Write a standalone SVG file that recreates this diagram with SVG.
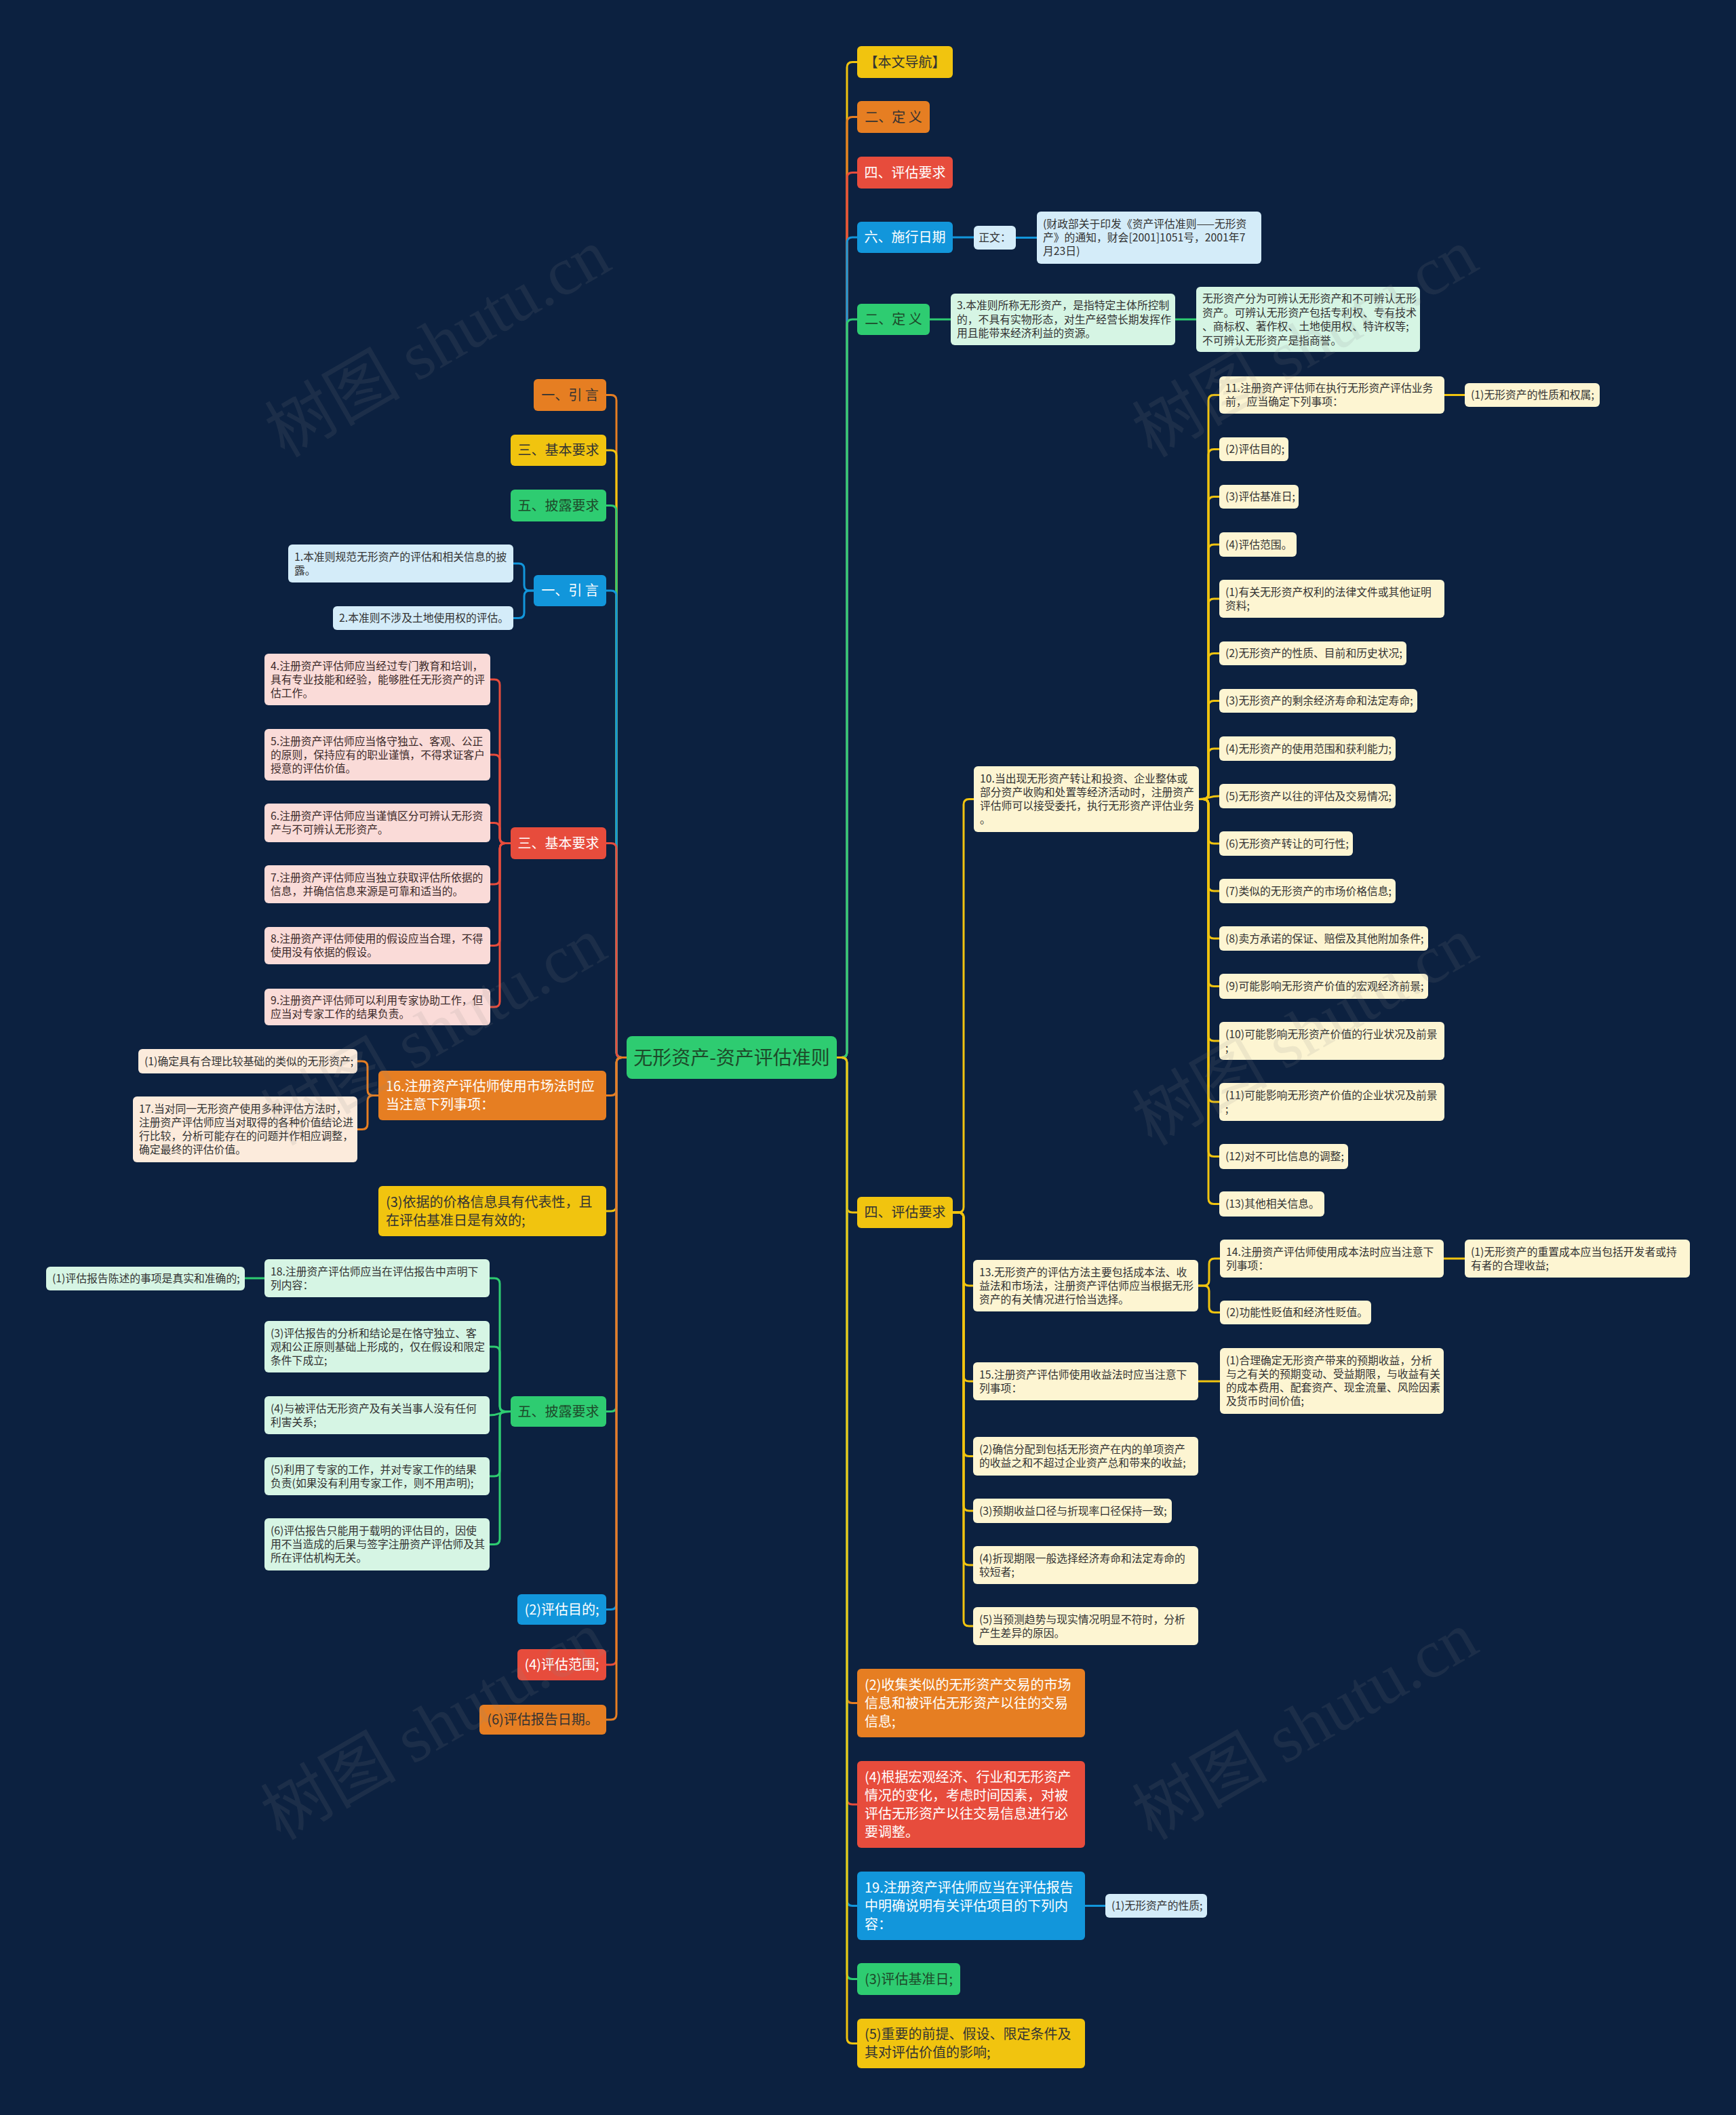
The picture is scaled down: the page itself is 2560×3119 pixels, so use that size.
<svg xmlns="http://www.w3.org/2000/svg" width="2560" height="3119" viewBox="0 0 2560 3119">
<style>
text{font-family:"Noto Sans CJK SC","Noto Sans",sans-serif;}
.s{font-size:15.8px;fill:#333333;}
.m{font-size:20px;}
.c{text-anchor:middle;}
.w{fill:#ffffff;}
.d{fill:#333333;}
.dg{fill:#1d4a2a;}
.pk{fill:#3d2b2b;}
.ln{fill:none;stroke-width:3;stroke-linecap:round;}
.Y{stroke:#f1c40f;} .O{stroke:#e67e22;} .R{stroke:#e74c3c;} .B{stroke:#1296db;} .G{stroke:#2ecc71;}
.fY{fill:#f1c40f;} .fO{fill:#e67e22;} .fR{fill:#e74c3c;} .fB{fill:#1296db;} .fG{fill:#2ecc71;}
.cr{fill:#fdf5d2;} .lb{fill:#d4ecf9;} .lg{fill:#d6f5e4;} .pi{fill:#fadbd8;} .pe{fill:#fcebdc;}
.wm{font-family:"Liberation Serif","Noto Sans CJK SC",serif;font-size:100px;fill:#8a8a8a;opacity:0.13;text-anchor:middle;}
</style>
<rect x="0" y="0" width="2560" height="3119" fill="#0c2140"/>

<g id="connectors">
<!-- root right, top -->
<path class="ln Y" d="M1234 1559.5 H1241 Q1249 1559.5 1249 1551.5 V99.5 Q1249 91.5 1257 91.5 H1264"/>
<path class="ln O" d="M1234 1559.5 H1241 Q1249 1559.5 1249 1551.5 V180.5 Q1249 172.5 1257 172.5 H1264"/>
<path class="ln R" d="M1234 1559.5 H1241 Q1249 1559.5 1249 1551.5 V262.5 Q1249 254.5 1257 254.5 H1264"/>
<path class="ln B" d="M1234 1559.5 H1241 Q1249 1559.5 1249 1551.5 V358 Q1249 350 1257 350 H1264"/>
<path class="ln G" d="M1234 1559.5 H1241 Q1249 1559.5 1249 1551.5 V479 Q1249 471 1257 471 H1264"/>
<!-- root right, bottom -->
<path class="ln Y" d="M1234 1559.5 H1241 Q1249 1559.5 1249 1567.5 V1780 Q1249 1788 1257 1788 H1264"/>
<path class="ln O" d="M1234 1559.5 H1241 Q1249 1559.5 1249 1567.5 V2503.5 Q1249 2511.5 1257 2511.5 H1264"/>
<path class="ln R" d="M1234 1559.5 H1241 Q1249 1559.5 1249 1567.5 V2653 Q1249 2661 1257 2661 H1264"/>
<path class="ln B" d="M1234 1559.5 H1241 Q1249 1559.5 1249 1567.5 V2802.5 Q1249 2810.5 1257 2810.5 H1264"/>
<path class="ln G" d="M1234 1559.5 H1241 Q1249 1559.5 1249 1567.5 V2910.5 Q1249 2918.5 1257 2918.5 H1264"/>
<path class="ln Y" d="M1234 1559.5 H1241 Q1249 1559.5 1249 1567.5 V3005.5 Q1249 3013.5 1257 3013.5 H1264"/>
<!-- root left, top -->
<path class="ln O" d="M924 1559.5 H917 Q909 1559.5 909 1551.5 V590.5 Q909 582.5 901 582.5 H894"/>
<path class="ln Y" d="M924 1559.5 H917 Q909 1559.5 909 1551.5 V672 Q909 664 901 664 H894"/>
<path class="ln G" d="M924 1559.5 H917 Q909 1559.5 909 1551.5 V753.5 Q909 745.5 901 745.5 H894"/>
<path class="ln B" d="M924 1559.5 H917 Q909 1559.5 909 1551.5 V879 Q909 871 901 871 H894"/>
<path class="ln R" d="M924 1559.5 H917 Q909 1559.5 909 1551.5 V1251.5 Q909 1243.5 901 1243.5 H894"/>
<!-- root left, bottom -->
<path class="ln O" d="M924 1559.5 H917 Q909 1559.5 909 1567.5 V1607.5 Q909 1615.5 901 1615.5 H894"/>
<path class="ln Y" d="M924 1559.5 H917 Q909 1559.5 909 1567.5 V1778 Q909 1786 901 1786 H894"/>
<path class="ln G" d="M924 1559.5 H917 Q909 1559.5 909 1567.5 V2073.5 Q909 2081.5 901 2081.5 H894"/>
<path class="ln B" d="M924 1559.5 H917 Q909 1559.5 909 1567.5 V2365.5 Q909 2373.5 901 2373.5 H894"/>
<path class="ln R" d="M924 1559.5 H917 Q909 1559.5 909 1567.5 V2447 Q909 2455 901 2455 H894"/>
<path class="ln O" d="M924 1559.5 H917 Q909 1559.5 909 1567.5 V2528 Q909 2536 901 2536 H894"/>

<!-- right second level -->
<path class="ln B" d="M1405 350 H1436"/>
<path class="ln B" d="M1498 350.5 H1529"/>
<path class="ln G" d="M1371 471 H1402"/>
<path class="ln G" d="M1733 471 H1764"/>
<path class="ln B" d="M1600 2810.5 H1630"/>

<path class="ln Y" d="M1405 1788 H1413 Q1421 1788 1421 1780 V1186.5 Q1421 1178.5 1429 1178.5 H1436"/>
<path class="ln Y" d="M1405 1788 H1413 Q1421 1788 1421 1796 V1888 Q1421 1896 1429 1896 H1435"/>
<path class="ln Y" d="M1405 1788 H1413 Q1421 1788 1421 1796 V2029 Q1421 2037 1429 2037 H1435"/>
<path class="ln Y" d="M1405 1788 H1413 Q1421 1788 1421 1796 V2139.5 Q1421 2147.5 1429 2147.5 H1435"/>
<path class="ln Y" d="M1405 1788 H1413 Q1421 1788 1421 1796 V2220 Q1421 2228 1429 2228 H1435"/>
<path class="ln Y" d="M1405 1788 H1413 Q1421 1788 1421 1796 V2300 Q1421 2308 1429 2308 H1435"/>
<path class="ln Y" d="M1405 1788 H1413 Q1421 1788 1421 1796 V2390 Q1421 2398 1429 2398 H1435"/>

<path class="ln Y" d="M1768 1178.5 H1774 Q1782 1178.5 1782 1170.5 V590.5 Q1782 582.5 1790 582.5 H1798"/>
<path class="ln Y" d="M1768 1178.5 H1774 Q1782 1178.5 1782 1170.5 V670.5 Q1782 662.5 1790 662.5 H1798"/>
<path class="ln Y" d="M1768 1178.5 H1774 Q1782 1178.5 1782 1170.5 V740.5 Q1782 732.5 1790 732.5 H1798"/>
<path class="ln Y" d="M1768 1178.5 H1774 Q1782 1178.5 1782 1170.5 V811 Q1782 803 1790 803 H1798"/>
<path class="ln Y" d="M1768 1178.5 H1774 Q1782 1178.5 1782 1170.5 V891 Q1782 883 1790 883 H1798"/>
<path class="ln Y" d="M1768 1178.5 H1774 Q1782 1178.5 1782 1170.5 V971.5 Q1782 963.5 1790 963.5 H1798"/>
<path class="ln Y" d="M1768 1178.5 H1774 Q1782 1178.5 1782 1170.5 V1041.5 Q1782 1033.5 1790 1033.5 H1798"/>
<path class="ln Y" d="M1768 1178.5 H1774 Q1782 1178.5 1782 1170.5 V1112 Q1782 1104 1790 1104 H1798"/>
<path class="ln Y" d="M1768 1178.5 C1782 1178.5 1782 1174 1798 1174"/>
<path class="ln Y" d="M1768 1178.5 H1774 Q1782 1178.5 1782 1186.5 V1236 Q1782 1244 1790 1244 H1798"/>
<path class="ln Y" d="M1768 1178.5 H1774 Q1782 1178.5 1782 1186.5 V1306 Q1782 1314 1790 1314 H1798"/>
<path class="ln Y" d="M1768 1178.5 H1774 Q1782 1178.5 1782 1186.5 V1376 Q1782 1384 1790 1384 H1798"/>
<path class="ln Y" d="M1768 1178.5 H1774 Q1782 1178.5 1782 1186.5 V1446.5 Q1782 1454.5 1790 1454.5 H1798"/>
<path class="ln Y" d="M1768 1178.5 H1774 Q1782 1178.5 1782 1186.5 V1527 Q1782 1535 1790 1535 H1798"/>
<path class="ln Y" d="M1768 1178.5 H1774 Q1782 1178.5 1782 1186.5 V1617 Q1782 1625 1790 1625 H1798"/>
<path class="ln Y" d="M1768 1178.5 H1774 Q1782 1178.5 1782 1186.5 V1697.5 Q1782 1705.5 1790 1705.5 H1798"/>
<path class="ln Y" d="M1768 1178.5 H1774 Q1782 1178.5 1782 1186.5 V1767.5 Q1782 1775.5 1790 1775.5 H1798"/>
<path class="ln Y" d="M2130 582.5 H2160"/>

<path class="ln Y" d="M1767 1896 H1775 Q1783 1896 1783 1888 V1864 Q1783 1856 1791 1856 H1799"/>
<path class="ln Y" d="M1767 1896 H1775 Q1783 1896 1783 1904 V1927.5 Q1783 1935.5 1791 1935.5 H1799"/>
<path class="ln Y" d="M2129 1856 H2160"/>
<path class="ln Y" d="M1767 2037 H1799"/>

<!-- left second level -->
<path class="ln B" d="M787 871 H781 Q773 871 773 863 V839 Q773 831 765 831 H757"/>
<path class="ln B" d="M787 871 H781 Q773 871 773 879 V903.5 Q773 911.5 765 911.5 H757"/>

<path class="ln R" d="M753 1243.5 H745 Q737 1243.5 737 1235.5 V1010 Q737 1002 729 1002 H723"/>
<path class="ln R" d="M753 1243.5 H745 Q737 1243.5 737 1235.5 V1121 Q737 1113 729 1113 H723"/>
<path class="ln R" d="M753 1243.5 H745 Q737 1243.5 737 1235.5 V1221.5 Q737 1213.5 729 1213.5 H723"/>
<path class="ln R" d="M753 1243.5 H745 Q737 1243.5 737 1251.5 V1296 Q737 1304 729 1304 H723"/>
<path class="ln R" d="M753 1243.5 H745 Q737 1243.5 737 1251.5 V1386.5 Q737 1394.5 729 1394.5 H723"/>
<path class="ln R" d="M753 1243.5 H745 Q737 1243.5 737 1251.5 V1477 Q737 1485 729 1485 H723"/>

<path class="ln O" d="M558 1615.5 H550 Q542 1615.5 542 1607.5 V1573 Q542 1565 534 1565 H527"/>
<path class="ln O" d="M558 1615.5 H550 Q542 1615.5 542 1623.5 V1657.5 Q542 1665.5 534 1665.5 H527"/>

<path class="ln G" d="M753 2081.5 H745 Q737 2081.5 737 2073.5 V1893 Q737 1885 729 1885 H722"/>
<path class="ln G" d="M753 2081.5 H745 Q737 2081.5 737 2073.5 V1994 Q737 1986 729 1986 H722"/>
<path class="ln G" d="M753 2081.5 C737 2081.5 737 2087 722 2087"/>
<path class="ln G" d="M753 2081.5 H745 Q737 2081.5 737 2089.5 V2169 Q737 2177 729 2177 H722"/>
<path class="ln G" d="M753 2081.5 H745 Q737 2081.5 737 2089.5 V2269.5 Q737 2277.5 729 2277.5 H722"/>
<path class="ln G" d="M390 1885 H361"/>
</g>

<!-- root -->
<g id="root">
<rect x="924" y="1528" width="310" height="63" rx="8" class="fG"/>
<text x="1079" y="1569.6" class="c dg" font-size="28">无形资产-资产评估准则</text>
</g>

<!-- right first level -->
<g id="r-nav"><rect x="1264" y="68" width="141" height="47" rx="6" class="fY"/><text x="1334.5" y="98.7" class="m c d">【本文导航】</text></g>
<g id="r-def-o"><rect x="1264" y="149" width="107" height="47" rx="6" class="fO"/><text x="1317.5" y="179.7" class="m c d">二、定 义</text></g>
<g id="r-req-r"><rect x="1264" y="231" width="141" height="47" rx="6" class="fR"/><text x="1334.5" y="261.7" class="m c w">四、评估要求</text></g>
<g id="r-date"><rect x="1264" y="327" width="141" height="46" rx="6" class="fB"/><text x="1334.5" y="357.2" class="m c w">六、施行日期</text></g>
<g id="r-zw"><rect x="1436" y="333" width="62" height="35" rx="6" class="lb"/><text x="1467" y="356.3" class="s c">正文：</text></g>
<g id="r-cz"><rect x="1529" y="312" width="331" height="77" rx="6" class="lb"/><text class="s"><tspan x="1538" y="336.3">(财政部关于印发《资产评估准则——无形资</tspan><tspan x="1538" y="356.3">产》的通知，财会[2001]1051号，2001年7</tspan><tspan x="1538" y="376.3">月23日)</tspan></text></g>
<g id="r-def-g"><rect x="1264" y="448" width="107" height="46" rx="6" class="fG"/><text x="1317.5" y="478.2" class="m c dg">二、定 义</text></g>
<g id="r-d3"><rect x="1402" y="433" width="331" height="76" rx="6" class="lg"/><text class="s"><tspan x="1411" y="456.3">3.本准则所称无形资产，是指特定主体所控制</tspan><tspan x="1411" y="476.8">的，不具有实物形态，对生产经营长期发挥作</tspan><tspan x="1411" y="497.3">用且能带来经济利益的资源。</tspan></text></g>
<g id="r-d3b"><rect x="1764" y="423" width="330" height="96" rx="6" class="lg"/><text class="s"><tspan x="1773" y="446.1">无形资产分为可辨认无形资产和不可辨认无形</tspan><tspan x="1773" y="466.6">资产。可辨认无形资产包括专利权、专有技术</tspan><tspan x="1773" y="487.1">、商标权、著作权、土地使用权、特许权等;</tspan><tspan x="1773" y="507.6">不可辨认无形资产是指商誉。</tspan></text></g>

<g id="r-req-y"><rect x="1264" y="1765" width="141" height="46" rx="6" class="fY"/><text x="1334.5" y="1795.2" class="m c d">四、评估要求</text></g>

<g id="n10"><rect x="1436" y="1130" width="332" height="97" rx="6" class="cr"/><text class="s"><tspan x="1445" y="1154.3">10.当出现无形资产转让和投资、企业整体或</tspan><tspan x="1445" y="1174.3">部分资产收购和处置等经济活动时，注册资产</tspan><tspan x="1445" y="1194.3">评估师可以接受委托，执行无形资产评估业务</tspan><tspan x="1445" y="1214.3">。</tspan></text></g>
<g id="n11"><rect x="1798" y="555" width="332" height="55" rx="6" class="cr"/><text class="s"><tspan x="1807" y="578.3">11.注册资产评估师在执行无形资产评估业务</tspan><tspan x="1807" y="598.3">前，应当确定下列事项：</tspan></text></g>
<g id="n11a"><rect x="2160" y="565" width="199" height="35" rx="6" class="cr"/><text x="2169" y="588.3" class="s">(1)无形资产的性质和权属;</text></g>
<g id="n11-2"><rect x="1798" y="645" width="102" height="35" rx="6" class="cr"/><text x="1807" y="668.3" class="s">(2)评估目的;</text></g>
<g id="n11-3"><rect x="1798" y="715" width="117" height="35" rx="6" class="cr"/><text x="1807" y="738.3" class="s">(3)评估基准日;</text></g>
<g id="n11-4"><rect x="1798" y="785" width="114" height="36" rx="6" class="cr"/><text x="1807" y="808.8" class="s">(4)评估范围。</text></g>
<g id="n12-1"><rect x="1798" y="855" width="332" height="56" rx="6" class="cr"/><text class="s"><tspan x="1807" y="878.8">(1)有关无形资产权利的法律文件或其他证明</tspan><tspan x="1807" y="898.8">资料;</tspan></text></g>
<g id="n12-2"><rect x="1798" y="946" width="276" height="35" rx="6" class="cr"/><text x="1807" y="969.3" class="s">(2)无形资产的性质、目前和历史状况;</text></g>
<g id="n12-3"><rect x="1798" y="1016" width="292" height="35" rx="6" class="cr"/><text x="1807" y="1039.3" class="s">(3)无形资产的剩余经济寿命和法定寿命;</text></g>
<g id="n12-4"><rect x="1798" y="1086" width="260" height="36" rx="6" class="cr"/><text x="1807" y="1109.8" class="s">(4)无形资产的使用范围和获利能力;</text></g>
<g id="n12-5"><rect x="1798" y="1156" width="260" height="36" rx="6" class="cr"/><text x="1807" y="1179.8" class="s">(5)无形资产以往的评估及交易情况;</text></g>
<g id="n12-6"><rect x="1798" y="1226" width="197" height="36" rx="6" class="cr"/><text x="1807" y="1249.8" class="s">(6)无形资产转让的可行性;</text></g>
<g id="n12-7"><rect x="1798" y="1296" width="260" height="36" rx="6" class="cr"/><text x="1807" y="1319.8" class="s">(7)类似的无形资产的市场价格信息;</text></g>
<g id="n12-8"><rect x="1798" y="1366" width="308" height="36" rx="6" class="cr"/><text x="1807" y="1389.8" class="s">(8)卖方承诺的保证、赔偿及其他附加条件;</text></g>
<g id="n12-9"><rect x="1798" y="1436" width="308" height="37" rx="6" class="cr"/><text x="1807" y="1460.3" class="s">(9)可能影响无形资产价值的宏观经济前景;</text></g>
<g id="n12-10"><rect x="1798" y="1507" width="332" height="56" rx="6" class="cr"/><text class="s"><tspan x="1807" y="1530.8">(10)可能影响无形资产价值的行业状况及前景</tspan><tspan x="1807" y="1550.8">;</tspan></text></g>
<g id="n12-11"><rect x="1798" y="1597" width="332" height="56" rx="6" class="cr"/><text class="s"><tspan x="1807" y="1620.8">(11)可能影响无形资产价值的企业状况及前景</tspan><tspan x="1807" y="1640.8">;</tspan></text></g>
<g id="n12-12"><rect x="1798" y="1687" width="190" height="37" rx="6" class="cr"/><text x="1807" y="1711.3" class="s">(12)对不可比信息的调整;</text></g>
<g id="n12-13"><rect x="1798" y="1757" width="155" height="37" rx="6" class="cr"/><text x="1807" y="1781.3" class="s">(13)其他相关信息。</text></g>

<g id="n13"><rect x="1435" y="1858" width="332" height="76" rx="6" class="cr"/><text class="s"><tspan x="1444" y="1881.8">13.无形资产的评估方法主要包括成本法、收</tspan><tspan x="1444" y="1901.8">益法和市场法，注册资产评估师应当根据无形</tspan><tspan x="1444" y="1921.8">资产的有关情况进行恰当选择。</tspan></text></g>
<g id="n14"><rect x="1799" y="1828" width="330" height="56" rx="6" class="cr"/><text class="s"><tspan x="1808" y="1851.8">14.注册资产评估师使用成本法时应当注意下</tspan><tspan x="1808" y="1871.8">列事项：</tspan></text></g>
<g id="n14a"><rect x="2160" y="1828" width="332" height="56" rx="6" class="cr"/><text class="s"><tspan x="2169" y="1851.8">(1)无形资产的重置成本应当包括开发者或持</tspan><tspan x="2169" y="1871.8">有者的合理收益;</tspan></text></g>
<g id="n14b"><rect x="1799" y="1918" width="223" height="35" rx="6" class="cr"/><text x="1808" y="1941.3" class="s">(2)功能性贬值和经济性贬值。</text></g>
<g id="n15"><rect x="1435" y="2009" width="332" height="56" rx="6" class="cr"/><text class="s"><tspan x="1444" y="2032.8">15.注册资产评估师使用收益法时应当注意下</tspan><tspan x="1444" y="2052.8">列事项：</tspan></text></g>
<g id="n15a"><rect x="1799" y="1988" width="330" height="97" rx="6" class="cr"/><text class="s"><tspan x="1808" y="2012.3">(1)合理确定无形资产带来的预期收益，分析</tspan><tspan x="1808" y="2032.3">与之有关的预期变动、受益期限，与收益有关</tspan><tspan x="1808" y="2052.3">的成本费用、配套资产、现金流量、风险因素</tspan><tspan x="1808" y="2072.3">及货币时间价值;</tspan></text></g>
<g id="n15-2"><rect x="1435" y="2119" width="332" height="57" rx="6" class="cr"/><text class="s"><tspan x="1444" y="2143.3">(2)确信分配到包括无形资产在内的单项资产</tspan><tspan x="1444" y="2163.3">的收益之和不超过企业资产总和带来的收益;</tspan></text></g>
<g id="n15-3"><rect x="1435" y="2210" width="293" height="36" rx="6" class="cr"/><text x="1444" y="2233.8" class="s">(3)预期收益口径与折现率口径保持一致;</text></g>
<g id="n15-4"><rect x="1435" y="2280" width="332" height="56" rx="6" class="cr"/><text class="s"><tspan x="1444" y="2303.8">(4)折现期限一般选择经济寿命和法定寿命的</tspan><tspan x="1444" y="2323.8">较短者;</tspan></text></g>
<g id="n15-5"><rect x="1435" y="2370" width="332" height="56" rx="6" class="cr"/><text class="s"><tspan x="1444" y="2393.8">(5)当预测趋势与现实情况明显不符时，分析</tspan><tspan x="1444" y="2413.8">产生差异的原因。</tspan></text></g>

<g id="r-b2"><rect x="1264" y="2461" width="336" height="101" rx="6" class="fO"/><text class="m w"><tspan x="1275" y="2491.7">(2)收集类似的无形资产交易的市场</tspan><tspan x="1275" y="2518.7">信息和被评估无形资产以往的交易</tspan><tspan x="1275" y="2545.7">信息;</tspan></text></g>
<g id="r-b4"><rect x="1264" y="2597" width="336" height="128" rx="6" class="fR"/><text class="m w"><tspan x="1275" y="2627.7">(4)根据宏观经济、行业和无形资产</tspan><tspan x="1275" y="2654.7">情况的变化，考虑时间因素，对被</tspan><tspan x="1275" y="2681.7">评估无形资产以往交易信息进行必</tspan><tspan x="1275" y="2708.7">要调整。</tspan></text></g>
<g id="r-b19"><rect x="1264" y="2760" width="336" height="101" rx="6" class="fB"/><text class="m w"><tspan x="1275" y="2790.7">19.注册资产评估师应当在评估报告</tspan><tspan x="1275" y="2817.7">中明确说明有关评估项目的下列内</tspan><tspan x="1275" y="2844.7">容：</tspan></text></g>
<g id="r-b19a"><rect x="1630" y="2793" width="150" height="35" rx="6" class="lb"/><text x="1639" y="2816.3" class="s">(1)无形资产的性质;</text></g>
<g id="r-b3"><rect x="1264" y="2895" width="152" height="47" rx="6" class="fG"/><text x="1340" y="2925.7" class="m c dg">(3)评估基准日;</text></g>
<g id="r-b5"><rect x="1264" y="2977" width="336" height="73" rx="6" class="fY"/><text class="m d"><tspan x="1275" y="3007.2">(5)重要的前提、假设、限定条件及</tspan><tspan x="1275" y="3034.2">其对评估价值的影响;</tspan></text></g>

<!-- left -->
<g id="l-intro-o"><rect x="787" y="559" width="107" height="47" rx="6" class="fO"/><text x="840.5" y="589.7" class="m c d">一、引 言</text></g>
<g id="l-basic-y"><rect x="753" y="641" width="141" height="46" rx="6" class="fY"/><text x="823.5" y="671.2" class="m c d">三、基本要求</text></g>
<g id="l-disc-g"><rect x="753" y="722" width="141" height="47" rx="6" class="fG"/><text x="823.5" y="752.7" class="m c dg">五、披露要求</text></g>
<g id="l-intro-b"><rect x="787" y="848" width="107" height="46" rx="6" class="fB"/><text x="840.5" y="878.2" class="m c w">一、引 言</text></g>
<g id="l-i1"><rect x="425" y="803" width="332" height="56" rx="6" class="lb"/><text class="s"><tspan x="434" y="826.8">1.本准则规范无形资产的评估和相关信息的披</tspan><tspan x="434" y="846.8">露。</tspan></text></g>
<g id="l-i2"><rect x="491" y="894" width="266" height="35" rx="6" class="lb"/><text x="500" y="917.3" class="s">2.本准则不涉及土地使用权的评估。</text></g>

<g id="l-basic-r"><rect x="753" y="1220" width="141" height="47" rx="6" class="fR"/><text x="823.5" y="1250.7" class="m c w">三、基本要求</text></g>
<g id="l-b4"><rect x="390" y="964" width="333" height="76" rx="6" class="pi"/><text class="s pk"><tspan x="399" y="987.8">4.注册资产评估师应当经过专门教育和培训，</tspan><tspan x="399" y="1007.8">具有专业技能和经验，能够胜任无形资产的评</tspan><tspan x="399" y="1027.8">估工作。</tspan></text></g>
<g id="l-b5"><rect x="390" y="1075" width="333" height="76" rx="6" class="pi"/><text class="s pk"><tspan x="399" y="1098.8">5.注册资产评估师应当恪守独立、客观、公正</tspan><tspan x="399" y="1118.8">的原则，保持应有的职业谨慎，不得求证客户</tspan><tspan x="399" y="1138.8">授意的评估价值。</tspan></text></g>
<g id="l-b6"><rect x="390" y="1185" width="333" height="57" rx="6" class="pi"/><text class="s pk"><tspan x="399" y="1209.3">6.注册资产评估师应当谨慎区分可辨认无形资</tspan><tspan x="399" y="1229.3">产与不可辨认无形资产。</tspan></text></g>
<g id="l-b7"><rect x="390" y="1276" width="333" height="56" rx="6" class="pi"/><text class="s pk"><tspan x="399" y="1299.8">7.注册资产评估师应当独立获取评估所依据的</tspan><tspan x="399" y="1319.8">信息，并确信信息来源是可靠和适当的。</tspan></text></g>
<g id="l-b8"><rect x="390" y="1367" width="333" height="55" rx="6" class="pi"/><text class="s pk"><tspan x="399" y="1390.3">8.注册资产评估师使用的假设应当合理，不得</tspan><tspan x="399" y="1410.3">使用没有依据的假设。</tspan></text></g>
<g id="l-b9"><rect x="390" y="1458" width="333" height="54" rx="6" class="pi"/><text class="s pk"><tspan x="399" y="1480.8">9.注册资产评估师可以利用专家协助工作，但</tspan><tspan x="399" y="1500.8">应当对专家工作的结果负责。</tspan></text></g>

<g id="l-16"><rect x="558" y="1579" width="336" height="73" rx="6" class="fO"/><text class="m w"><tspan x="569" y="1609.2">16.注册资产评估师使用市场法时应</tspan><tspan x="569" y="1636.2">当注意下列事项：</tspan></text></g>
<g id="l-16a"><rect x="204" y="1547" width="323" height="36" rx="6" class="pe"/><text x="213" y="1570.8" class="s">(1)确定具有合理比较基础的类似的无形资产;</text></g>
<g id="l-17"><rect x="196" y="1617" width="331" height="97" rx="6" class="pe"/><text class="s"><tspan x="205" y="1641.3">17.当对同一无形资产使用多种评估方法时，</tspan><tspan x="205" y="1661.3">注册资产评估师应当对取得的各种价值结论进</tspan><tspan x="205" y="1681.3">行比较，分析可能存在的问题并作相应调整，</tspan><tspan x="205" y="1701.3">确定最终的评估价值。</tspan></text></g>
<g id="l-p3"><rect x="558" y="1749" width="336" height="74" rx="6" class="fY"/><text class="m d"><tspan x="569" y="1779.7">(3)依据的价格信息具有代表性，且</tspan><tspan x="569" y="1806.7">在评估基准日是有效的;</tspan></text></g>

<g id="l-disc-g2"><rect x="753" y="2059" width="141" height="45" rx="6" class="fG"/><text x="823.5" y="2088.7" class="m c dg">五、披露要求</text></g>
<g id="l-18"><rect x="390" y="1857" width="332" height="56" rx="6" class="lg"/><text class="s"><tspan x="399" y="1880.8">18.注册资产评估师应当在评估报告中声明下</tspan><tspan x="399" y="1900.8">列内容：</tspan></text></g>
<g id="l-18a"><rect x="68" y="1868" width="293" height="35" rx="6" class="lg"/><text x="77" y="1891.3" class="s">(1)评估报告陈述的事项是真实和准确的;</text></g>
<g id="l-g3"><rect x="390" y="1948" width="332" height="76" rx="6" class="lg"/><text class="s"><tspan x="399" y="1971.8">(3)评估报告的分析和结论是在恪守独立、客</tspan><tspan x="399" y="1991.8">观和公正原则基础上形成的，仅在假设和限定</tspan><tspan x="399" y="2011.8">条件下成立;</tspan></text></g>
<g id="l-g4"><rect x="390" y="2059" width="332" height="56" rx="6" class="lg"/><text class="s"><tspan x="399" y="2082.8">(4)与被评估无形资产及有关当事人没有任何</tspan><tspan x="399" y="2102.8">利害关系;</tspan></text></g>
<g id="l-g5"><rect x="390" y="2149" width="332" height="56" rx="6" class="lg"/><text class="s"><tspan x="399" y="2172.8">(5)利用了专家的工作，并对专家工作的结果</tspan><tspan x="399" y="2192.8">负责(如果没有利用专家工作，则不用声明);</tspan></text></g>
<g id="l-g6"><rect x="390" y="2239" width="332" height="77" rx="6" class="lg"/><text class="s"><tspan x="399" y="2263.3">(6)评估报告只能用于载明的评估目的，因使</tspan><tspan x="399" y="2283.3">用不当造成的后果与签字注册资产评估师及其</tspan><tspan x="399" y="2303.3">所在评估机构无关。</tspan></text></g>

<g id="l-purpose"><rect x="763" y="2351" width="131" height="45" rx="6" class="fB"/><text x="828.5" y="2380.7" class="m c w">(2)评估目的;</text></g>
<g id="l-scope"><rect x="763" y="2432" width="131" height="46" rx="6" class="fR"/><text x="828.5" y="2462.2" class="m c w">(4)评估范围;</text></g>
<g id="l-date"><rect x="707" y="2514" width="187" height="44" rx="6" class="fO"/><text x="800.5" y="2543.2" class="m c d">(6)评估报告日期。</text></g>

<g id="watermarks">
<text class="wm" x="646" y="540" transform="rotate(-30 646 507)">树图 shutu.cn</text>
<text class="wm" x="1925" y="540" transform="rotate(-30 1925 507)">树图 shutu.cn</text>
<text class="wm" x="640" y="1555" transform="rotate(-30 640 1522)">树图 shutu.cn</text>
<text class="wm" x="1925" y="1555" transform="rotate(-30 1925 1522)">树图 shutu.cn</text>
<text class="wm" x="640" y="2579" transform="rotate(-30 640 2546)">树图 shutu.cn</text>
<text class="wm" x="1925" y="2579" transform="rotate(-30 1925 2546)">树图 shutu.cn</text>
</g>
</svg>
